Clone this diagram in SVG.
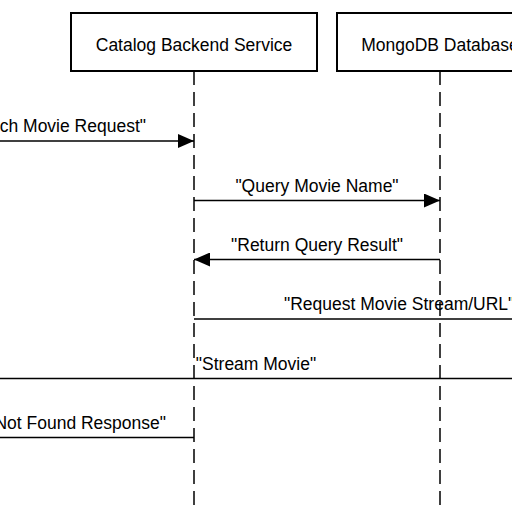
<svg xmlns="http://www.w3.org/2000/svg" width="512" height="512" viewBox="0 0 512 512">
  <defs>
    <marker id="arrow" markerUnits="userSpaceOnUse" markerWidth="17" markerHeight="14" refX="16" refY="7" orient="auto">
      <path d="M0,0 L16,7 L0,14 Z" fill="#000"/>
    </marker>
  </defs>
  <style>
    .box { fill: #fff; stroke: #000; stroke-width: 2; }
    .life { stroke: #000; stroke-width: 1.5; stroke-dasharray: 14 7; fill: none; }
    .msg { stroke: #000; stroke-width: 1.3; fill: none; }
    .lbl { font-family: "Liberation Sans", Arial, Helvetica, sans-serif; font-size: 17.5px; fill: #000; }
  </style>
  <rect width="512" height="512" fill="#fff"/>

  <g id="lifelines">
    <line class="life" x1="194" y1="71" x2="194" y2="512"/>
    <line class="life" x1="440" y1="71" x2="440" y2="512"/>
  </g>

  <g id="catalog-backend-service">
    <rect class="box" x="71" y="13" width="246" height="58"/>
    <text class="lbl" x="194" y="51" text-anchor="middle">Catalog Backend Service</text>
  </g>

  <g id="mongodb-database">
    <rect class="box" x="337" y="13" width="206" height="58"/>
    <text class="lbl" x="440" y="51" text-anchor="middle">MongoDB Database</text>
  </g>

  <g id="connectors">
    <line class="msg" x1="-10" y1="141" x2="194" y2="141" marker-end="url(#arrow)"/>
    <text class="lbl" x="146" y="132" text-anchor="end">ch Movie Request"</text>

    <line class="msg" x1="194" y1="200.5" x2="440" y2="200.5" marker-end="url(#arrow)"/>
    <text class="lbl" x="317" y="191.5" text-anchor="middle">"Query Movie Name"</text>

    <line class="msg" x1="440" y1="259.5" x2="194" y2="259.5" marker-end="url(#arrow)"/>
    <text class="lbl" x="317" y="250.5" text-anchor="middle">"Return Query Result"</text>

    <line class="msg" x1="194" y1="319" x2="530" y2="319"/>
    <text class="lbl" x="284" y="310">"Request Movie Stream/URL"</text>

    <line class="msg" x1="-10" y1="378.5" x2="530" y2="378.5"/>
    <text class="lbl" x="256" y="369.5" text-anchor="middle">"Stream Movie"</text>

    <line class="msg" x1="194" y1="437.5" x2="-10" y2="437.5"/>
    <text class="lbl" x="166" y="428.5" text-anchor="end">Not Found Response"</text>
  </g>
</svg>
